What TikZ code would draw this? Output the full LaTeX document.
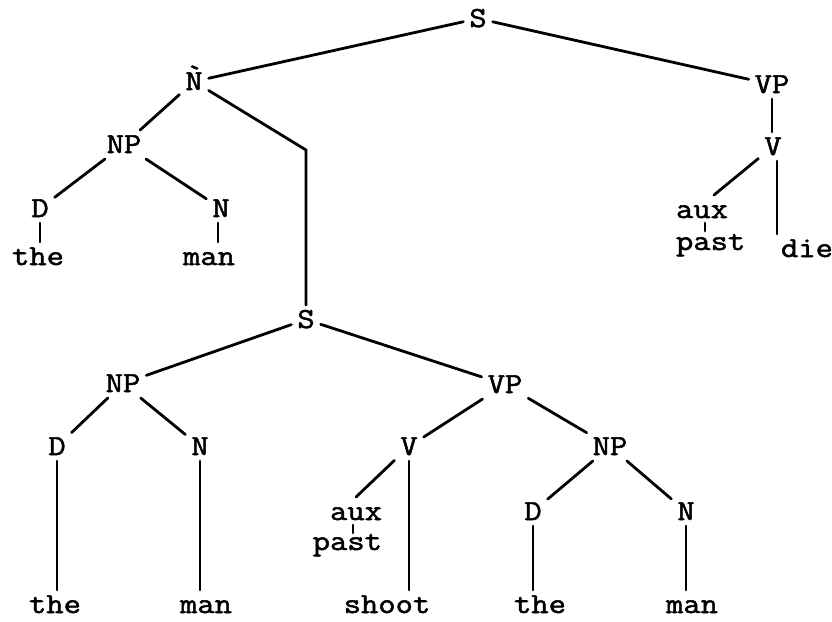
\documentclass[tikz,border=0pt]{standalone}
\usepackage{fontspec}
\newfontfamily\treefont[FakeStretch=1.16,FakeBold=1.8]{Latin Modern Mono}
\usetikzlibrary{calc}
\newcommand{\gravN}{\rlap{\raisebox{0.22em}{\kern0.02em\symbol{"60}}}N}
\begin{document}
\begin{tikzpicture}[x=1pt,y=-1pt,
  lbl/.style={font=\treefont\fontsize{29}{31}\selectfont, inner sep=0pt, outer sep=6pt,
    text height=17pt, text depth=0pt, anchor=base},
  edge/.style={line width=2.8pt, line cap=round}]
\useasboundingbox (0,0) rectangle (832,621);
% upper tree
\node[lbl] (S1) at (478,27) {S};
\node[lbl] (Nb) at (194,90) {\gravN};
\node[lbl] (VP1) at (772,93) {VP};
\node[lbl] (V1) at (773,155) {V};
\node[lbl,anchor=base west] (aux1) at (670,218) {aux};
\node[lbl,anchor=base west,text depth=7pt] (past1) at (670,250) {past};
\node[lbl,anchor=base west] (die1) at (775,257) {die};
\node[lbl] (NP1) at (124,153) {NP};
\node[lbl] (D1) at (40,217) {D};
\node[lbl] (N1) at (221,217) {N};
\node[lbl] (the1) at (38,265) {the};
\node[lbl] (man1) at (209,265) {man};
\coordinate (bend) at (306,150);
% lower tree
\node[lbl] (S2) at (306,328) {S};
\node[lbl] (NP2) at (123,392) {NP};
\node[lbl] (VP2) at (505,393) {VP};
\node[lbl] (D2) at (57,455) {D};
\node[lbl] (N2) at (200,455) {N};
\node[lbl] (V2) at (409,455) {V};
\node[lbl,anchor=base east] (aux2) at (388,520) {aux};
\node[lbl,anchor=base east,text depth=7pt] (past2) at (388,550) {past};
\node[lbl] (NP3) at (610,455) {NP};
\node[lbl] (D3) at (533,520) {D};
\node[lbl] (N3) at (686,520) {N};
\node[lbl] (the2) at (55,613) {the};
\node[lbl] (man2) at (206,613) {man};
\node[lbl] (shoot) at (387,613) {shoot};
\node[lbl] (the3) at (540,613) {the};
\node[lbl] (man3) at (692,613) {man};
% connectors upper
\draw[edge] (S1) -- (Nb);
\draw[edge] (S1) -- (VP1);
\draw[edge] (VP1.south) -- (VP1.south |- V1.north);
\draw[edge] (V1) -- ([xshift=12pt]aux1.north);
\draw[edge] ([xshift=4pt]V1.south) -- ([xshift=4pt]V1.south |- die1.north);
\draw[edge] ($(aux1.base)+(3,5)$) -- ($(aux1.base)+(3,13)$);
\draw[edge] (Nb) -- (NP1);
\draw[edge] (Nb) -- (bend) -- (S2);
\draw[edge] (NP1) -- (D1);
\draw[edge] (NP1) -- (N1);
\draw[edge] (D1.south) -- (D1.south |- the1.north);
\draw[edge] ([xshift=-3pt]N1.south) -- ([xshift=-3pt]N1.south |- man1.north);
% connectors lower
\draw[edge] (S2) -- (NP2);
\draw[edge] (S2) -- (VP2);
\draw[edge] (NP2) -- (D2);
\draw[edge] (NP2) -- (N2);
\draw[edge] (D2.south) -- (D2.south |- the2.north);
\draw[edge] (N2.south) -- (N2.south |- man2.north);
\draw[edge] (VP2) -- (V2);
\draw[edge] (V2) -- (aux2.north);
\draw[edge] ($(aux2.base)+(-3,5)$) -- ($(aux2.base)+(-3,13)$);
\draw[edge] (V2.south) -- (V2.south |- shoot.north);
\draw[edge] (VP2) -- (NP3);
\draw[edge] (NP3) -- (D3);
\draw[edge] (NP3) -- (N3);
\draw[edge] (D3.south) -- (D3.south |- the3.north);
\draw[edge] (N3.south) -- (N3.south |- man3.north);
\end{tikzpicture}
\end{document}
